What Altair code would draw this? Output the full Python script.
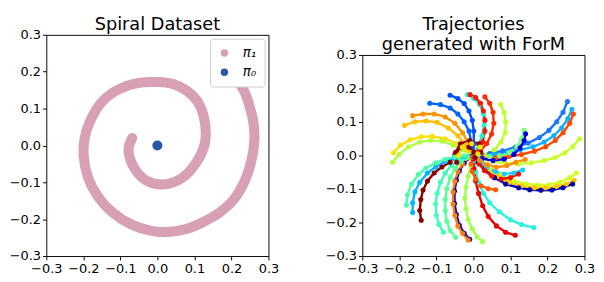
import altair as alt
import pandas as pd

# ---------------- Left panel: spiral dataset ----------------
SPIRAL_X = [-0.068, -0.078, -0.062, -0.028, 0.016, 0.067, 0.106, 0.128, 0.128, 0.111,
            0.080, 0.041, -0.002, -0.054, -0.105, -0.149, -0.179, -0.196, -0.199, -0.187,
            -0.161, -0.123, -0.071, -0.019, 0.024, 0.076, 0.119, 0.171, 0.206, 0.236,
            0.253, 0.262, 0.259, 0.249, 0.236, 0.218]
SPIRAL_Y = [0.020, -0.012, -0.062, -0.096, -0.106, -0.088, -0.045, 0.005, 0.064, 0.115,
            0.148, 0.167, 0.172, 0.169, 0.152, 0.119, 0.072, 0.022, -0.029, -0.088,
            -0.138, -0.180, -0.214, -0.231, -0.235, -0.227, -0.210, -0.180, -0.147, -0.096,
            -0.045, 0.013, 0.064, 0.106, 0.144, 0.174]
PI0_X = [0.0]
PI0_Y = [0.0]
LEGEND_LABELS = ["π₁", "π₀"]
LEGEND_COLORS = ["#d8a0b4", "#2c56a8"]

TICKS = [-0.3, -0.2, -0.1, 0.0, 0.1, 0.2, 0.3]
LEFT_TITLE = "Spiral Dataset"
RIGHT_TITLE = ["Trajectories", "generated with ForM"]

# ---------------- Right panel: trajectories ----------------
TRAJ_COLORS = [
    "#0050ff", "#0064ff", "#ff9400", "#ffc000", "#ffe000", "#b0ff46", "#26f0d0",
    "#ff1400", "#ff2c00", "#c0ff36", "#1a78ff", "#10b0ff", "#ff4800", "#c8ff30",
    "#7cff7a", "#0000e0", "#d4ff22", "#ffc400", "#0000b0", "#2cf2e0", "#e80000",
    "#a4ff52", "#0000c8", "#ff8000", "#5cff9a", "#40ffb6", "#840000", "#00b4ff",
    "#4cffaa", "#ff5a00", "#18d0ff", "#f01000", "#ff8c00", "#900000", "#ffe000",
]
TRAJ_XY = [
    [(-0.063, 0.180), (-0.042, 0.170), (-0.025, 0.155), (-0.012, 0.133), (-0.003, 0.105), (0.001, 0.073), (0.001, 0.036), (0.000, 0.003)],
    [(-0.118, 0.156), (-0.089, 0.152), (-0.063, 0.142), (-0.042, 0.124), (-0.025, 0.101), (-0.012, 0.073), (-0.006, 0.040), (-0.003, 0.008)],
    [(-0.164, 0.119), (-0.136, 0.124), (-0.106, 0.124), (-0.076, 0.115), (-0.050, 0.096), (-0.029, 0.068), (-0.014, 0.036), (-0.006, 0.008)],
    [(-0.186, 0.090), (-0.158, 0.101), (-0.128, 0.103), (-0.098, 0.099), (-0.068, 0.082), (-0.042, 0.059), (-0.020, 0.031), (-0.007, 0.008)],
    [(-0.216, 0.008), (-0.197, 0.031), (-0.171, 0.047), (-0.141, 0.056), (-0.111, 0.057), (-0.076, 0.050), (-0.046, 0.036), (-0.020, 0.017), (-0.003, 0.003)],
    [(-0.218, -0.020), (-0.201, 0.003), (-0.175, 0.026), (-0.145, 0.040), (-0.115, 0.045), (-0.085, 0.043), (-0.055, 0.031), (-0.029, 0.017), (-0.007, 0.003)],
    [(-0.016, 0.182), (0.001, 0.170), (0.017, 0.152), (0.027, 0.124), (0.029, 0.091), (0.023, 0.059), (0.014, 0.031), (0.001, 0.003)],
    [(-0.009, 0.182), (0.006, 0.173), (0.019, 0.156), (0.027, 0.133), (0.031, 0.105), (0.031, 0.073), (0.025, 0.040), (0.014, 0.013), (0.001, 0.000)],
    [(0.031, 0.175), (0.044, 0.156), (0.053, 0.129), (0.055, 0.096), (0.049, 0.064), (0.036, 0.036), (0.019, 0.013), (0.001, 0.000)],
    [(0.074, 0.152), (0.083, 0.128), (0.087, 0.101), (0.086, 0.068), (0.074, 0.040), (0.057, 0.017), (0.036, 0.003), (0.006, -0.001)],
    [(0.254, 0.161), (0.242, 0.129), (0.225, 0.101), (0.204, 0.075), (0.178, 0.054), (0.148, 0.037), (0.113, 0.025), (0.079, 0.014), (0.044, 0.006), (0.010, 0.000)],
    [(0.266, 0.138), (0.255, 0.110), (0.238, 0.082), (0.217, 0.059), (0.191, 0.040), (0.161, 0.026), (0.126, 0.017), (0.092, 0.010), (0.053, 0.003), (0.014, -0.001)],
    [(0.270, 0.124), (0.260, 0.096), (0.242, 0.068), (0.221, 0.045), (0.195, 0.026), (0.165, 0.013), (0.130, 0.003), (0.096, -0.003), (0.062, -0.006), (0.023, -0.004)],
    [(0.287, 0.050), (0.268, 0.026), (0.247, 0.008), (0.221, -0.006), (0.191, -0.015), (0.156, -0.022), (0.122, -0.025), (0.087, -0.023), (0.053, -0.018), (0.019, -0.009)],
    [(0.137, 0.075), (0.130, 0.050), (0.117, 0.026), (0.096, 0.008), (0.070, -0.001), (0.044, -0.003), (0.014, -0.001)],
    [(0.141, 0.065), (0.137, 0.045), (0.126, 0.022), (0.109, 0.003), (0.083, -0.011), (0.053, -0.015), (0.023, -0.009)],
    [(0.278, -0.052), (0.260, -0.066), (0.234, -0.080), (0.204, -0.087), (0.173, -0.088), (0.143, -0.085), (0.109, -0.076), (0.074, -0.057), (0.044, -0.038), (0.019, -0.018)],
    [(0.272, -0.074), (0.251, -0.085), (0.225, -0.092), (0.195, -0.096), (0.165, -0.096), (0.130, -0.090), (0.096, -0.080), (0.066, -0.062), (0.036, -0.038), (0.014, -0.018)],
    [(0.268, -0.085), (0.242, -0.096), (0.212, -0.103), (0.182, -0.104), (0.152, -0.102), (0.122, -0.096), (0.087, -0.085), (0.057, -0.066), (0.031, -0.043), (0.010, -0.018)],
    [(0.163, -0.215), (0.130, -0.206), (0.100, -0.192), (0.070, -0.168), (0.044, -0.141), (0.027, -0.113), (0.014, -0.080), (0.006, -0.048), (0.001, -0.015)],
    [(0.113, -0.238), (0.087, -0.229), (0.062, -0.210), (0.040, -0.182), (0.025, -0.150), (0.014, -0.113), (0.006, -0.076), (0.001, -0.039), (0.000, -0.011)],
    [(0.025, -0.257), (0.010, -0.243), (-0.003, -0.219), (-0.014, -0.192), (-0.020, -0.159), (-0.023, -0.127), (-0.020, -0.094), (-0.014, -0.062), (-0.007, -0.029), (-0.001, -0.006)],
    [(-0.010, -0.250), (-0.025, -0.232), (-0.038, -0.208), (-0.046, -0.176), (-0.051, -0.143), (-0.051, -0.106), (-0.046, -0.074), (-0.038, -0.046), (-0.025, -0.023), (-0.008, -0.004)],
    [(-0.014, -0.252), (-0.029, -0.233), (-0.042, -0.210), (-0.050, -0.178), (-0.055, -0.145), (-0.055, -0.108), (-0.050, -0.076), (-0.042, -0.048), (-0.029, -0.025), (-0.012, -0.006)],
    [(-0.048, -0.244), (-0.063, -0.224), (-0.072, -0.196), (-0.076, -0.164), (-0.076, -0.131), (-0.072, -0.099), (-0.063, -0.066), (-0.050, -0.039), (-0.033, -0.018), (-0.012, -0.006)],
    [(-0.081, -0.229), (-0.093, -0.206), (-0.100, -0.178), (-0.102, -0.145), (-0.098, -0.113), (-0.089, -0.080), (-0.076, -0.052), (-0.059, -0.029), (-0.037, -0.013), (-0.016, -0.003)],
    [(-0.141, -0.193), (-0.145, -0.164), (-0.142, -0.131), (-0.136, -0.103), (-0.124, -0.076), (-0.106, -0.052), (-0.085, -0.034), (-0.063, -0.020), (-0.050, 0.003), (-0.033, 0.025), (-0.012, 0.025), (0.001, 0.010)],
    [(-0.164, -0.170), (-0.164, -0.141), (-0.158, -0.108), (-0.145, -0.080), (-0.124, -0.052), (-0.102, -0.034), (-0.076, -0.018), (-0.050, -0.009), (-0.025, -0.003)],
    [(-0.181, -0.148), (-0.178, -0.117), (-0.167, -0.085), (-0.149, -0.057), (-0.128, -0.037), (-0.102, -0.022), (-0.076, -0.011), (-0.050, -0.004), (-0.025, -0.001)],
    [(0.060, -0.102), (0.040, -0.099), (0.020, -0.090), (0.006, -0.071), (-0.003, -0.048), (-0.006, -0.025), (-0.003, -0.006)],
    [(0.133, -0.043), (0.109, -0.052), (0.083, -0.055), (0.060, -0.048), (0.037, -0.034), (0.019, -0.018), (0.003, -0.006)],
    [(0.122, -0.055), (0.100, -0.066), (0.075, -0.070), (0.050, -0.062), (0.030, -0.045), (0.015, -0.025), (0.003, -0.006)],
    [(0.140, -0.012), (0.115, -0.020), (0.090, -0.030), (0.062, -0.035), (0.038, -0.028), (0.016, -0.014)],
    [(-0.045, -0.020), (-0.048, 0.010), (-0.035, 0.035), (-0.010, 0.045), (0.015, 0.035), (0.020, 0.010), (0.005, -0.005)],
    [(-0.040, 0.000), (-0.030, 0.025), (-0.005, 0.035), (0.018, 0.025), (0.012, 0.005)],
]

FONT = "DejaVu Sans"

# ---------------- build tables ----------------
spiral_df = pd.DataFrame({"x": SPIRAL_X, "y": SPIRAL_Y, "order": range(len(SPIRAL_X))})
pi0_df = pd.DataFrame({"x": PI0_X, "y": PI0_Y, "series": [LEGEND_LABELS[1]] * len(PI0_X)})

rows = []
for i, (col, pts) in enumerate(zip(TRAJ_COLORS, TRAJ_XY)):
    for j, (x, y) in enumerate(pts):
        rows.append({"traj": i, "order": j, "x": x, "y": y, "color": col})
traj_df = pd.DataFrame(rows)


def xaxis():
    return alt.X("x:Q", scale=alt.Scale(domain=[-0.3, 0.3], nice=False, zero=False),
                 axis=alt.Axis(values=TICKS, format=".1f", title=None,
                               labelOverlap=False, labelFlush=False))


def yaxis():
    return alt.Y("y:Q", scale=alt.Scale(domain=[-0.3, 0.3], nice=False, zero=False),
                 axis=alt.Axis(values=TICKS, format=".1f", title=None,
                               labelOverlap=False, labelFlush=False))


def title_block(text):
    """An empty, frameless strip whose title (placed below it) heads a panel."""
    return alt.Chart(pd.DataFrame({"v": [0]})).mark_point(opacity=0, size=0).encode(
        x=alt.value(0), y=alt.value(0)
    ).properties(
        width=232, height=1,
        view=alt.ViewBackground(stroke="transparent"),
        title=alt.TitleParams(text, orient="bottom", fontSize=18.5, font=FONT,
                              fontWeight="normal", anchor="middle", offset=0,
                              color="black", lineHeight=21),
    )


band = alt.Chart(spiral_df).mark_line(
    strokeWidth=10.5, strokeCap="round", strokeJoin="round",
    interpolate="catmull-rom", color=LEGEND_COLORS[0]
).encode(x=xaxis(), y=yaxis(), order="order:Q")

pi0 = alt.Chart(pi0_df).mark_circle(size=110, opacity=1).encode(
    x=xaxis(), y=yaxis(),
    color=alt.Color("series:N",
                    scale=alt.Scale(domain=LEGEND_LABELS, range=LEGEND_COLORS),
                    sort=LEGEND_LABELS,
                    legend=alt.Legend(title=None, orient="top-right", offset=4,
                                      fillColor="white", strokeColor="#cccccc",
                                      cornerRadius=3, padding=8, symbolSize=60,
                                      symbolOpacity=1, labelFontSize=14,
                                      labelFontStyle="italic", labelOffset=12,
                                      labelFont=FONT, rowPadding=6, symbolType="circle")),
)

left_plot = alt.layer(band, pi0).properties(width=232, height=231)

lines = alt.Chart(traj_df).mark_line(strokeWidth=2.5).encode(
    x=xaxis(), y=yaxis(), detail="traj:N", order="order:Q",
    color=alt.Color("color:N", scale=None),
)
dots = alt.Chart(traj_df).mark_circle(size=28, opacity=1).encode(
    x=xaxis(), y=yaxis(), color=alt.Color("color:N", scale=None),
)
right_plot = alt.layer(lines, dots).properties(width=232, height=210)

left = alt.vconcat(title_block(LEFT_TITLE), left_plot, spacing=20,
                   bounds="flush").resolve_scale(color="independent")
right = alt.vconcat(title_block(RIGHT_TITLE), right_plot, spacing=41,
                    bounds="flush").resolve_scale(color="independent")

chart = alt.hconcat(left, right, spacing=46).properties(
    padding=0
).configure_view(
    stroke="black", strokeWidth=1
).configure_axis(
    grid=False, domain=False, tickColor="black", tickSize=4, tickWidth=1,
    labelFont=FONT, labelFontSize=13.5, labelColor="black", labelPadding=2,
).resolve_scale(color="independent")

chart.save("out.html", embed_options={"renderer": "svg", "actions": False})
